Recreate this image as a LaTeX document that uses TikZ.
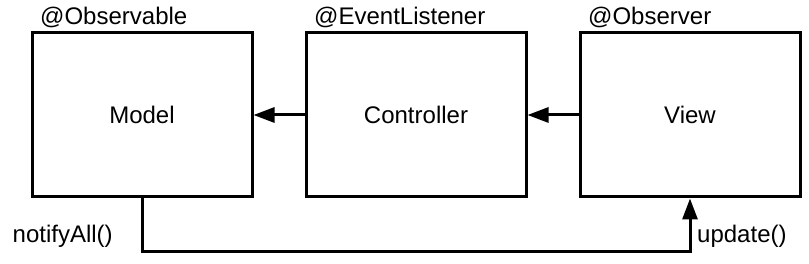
\documentclass[tikz,border=0pt]{standalone}
\usepackage{fontspec}
\setmainfont{Liberation Sans}
\usetikzlibrary{arrows.meta}
\begin{document}
\begin{tikzpicture}[x=1pt,y=1pt,
  box/.style={draw=black,line width=3pt,minimum width=220pt,minimum height=164pt,inner sep=0pt,font=\fontsize{24}{28}\selectfont},
  lbl/.style={anchor=base west,inner sep=0pt,font=\fontsize{24}{28}\selectfont},
  conn/.style={line width=3pt,-{Triangle[length=21pt,width=15pt]}}]
\useasboundingbox (0,0) rectangle (809,264);
\node[box] (model) at (142,149) {Model};
\node[box] (ctrl) at (416,149) {Controller};
\node[box] (view) at (690,149) {View};
\node[lbl] (obs) at (40,239) {@Observable};
\node[lbl] (evl) at (314,239) {@EventListener};
\node[lbl] (obr) at (588,239) {@Observer};
\node[lbl] (notify) at (12.5,21) {notifyAll()};
\node[lbl] (upd) at (697,21) {update()};
\draw[conn] (ctrl.west) -- (model.east);
\draw[conn] (view.west) -- (ctrl.east);
\coordinate (c1) at (142,12);
\coordinate (c2) at (690,12);
\draw[conn] (model.south) -- (c1) -- (c2) -- (view.south);
\end{tikzpicture}
\end{document}
